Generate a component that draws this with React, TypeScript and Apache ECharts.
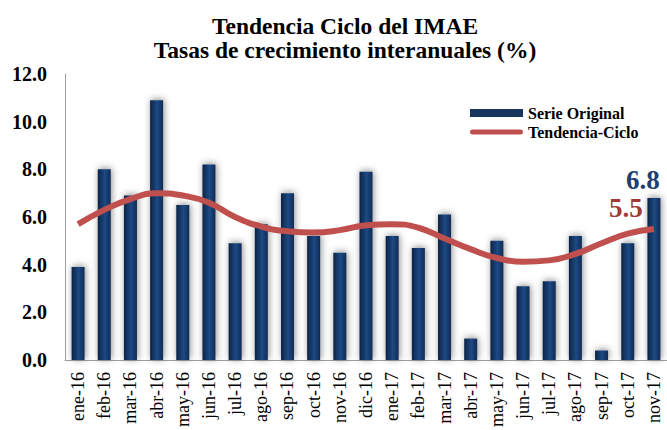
import React, { useEffect, useRef } from "react";
import * as echarts from "echarts";

const categories = [
  "ene-16", "feb-16", "mar-16", "abr-16", "may-16", "jun-16", "jul-16", "ago-16",
  "sep-16", "oct-16", "nov-16", "dic-16", "ene-17", "feb-17", "mar-17", "abr-17",
  "may-17", "jun-17", "jul-17", "ago-17", "sep-17", "oct-17", "nov-17",
];
const serieOriginal = [
  3.9, 8.0, 6.9, 10.9, 6.5, 8.2, 4.9, 5.7, 7.0, 5.2, 4.5, 7.9,
  5.2, 4.7, 6.1, 0.9, 5.0, 3.1, 3.3, 5.2, 0.4, 4.9, 6.8,
];
const tendenciaCiclo = [
  5.7, 6.3, 6.75, 7.0, 6.9, 6.6, 6.0, 5.6, 5.4, 5.35, 5.45, 5.65,
  5.7, 5.55, 5.1, 4.65, 4.28, 4.12, 4.18, 4.45, 4.9, 5.3, 5.5,
];
const yTicks = { min: 0, max: 12, interval: 2 };

const SERIF = "Times New Roman, Liberation Serif, serif";

export default function App() {
  const ref = useRef<HTMLDivElement>(null);
  useEffect(() => {
    if (!ref.current) return;
    const chart = echarts.init(ref.current, undefined, { renderer: "svg" });
    const last = serieOriginal.length - 1;
    const barGradient = new echarts.graphic.LinearGradient(0, 0, 1, 0, [
      { offset: 0, color: "#0d2345" },
      { offset: 0.55, color: "#1c4a85" },
      { offset: 1, color: "#102a52" },
    ]);
    chart.setOption({
      animation: false,
      backgroundColor: "#ffffff",
      textStyle: { fontFamily: SERIF },
      title: {
        text: "Tendencia Ciclo del IMAE\nTasas de crecimiento interanuales (%)",
        left: 340,
        textAlign: "center",
        top: 9,
        textStyle: {
          fontFamily: SERIF,
          fontWeight: "bold",
          fontSize: 23.5,
          lineHeight: 24,
          color: "#000",
        },
      },
      legend: {
        orient: "vertical",
        left: 465,
        top: 100,
        itemWidth: 53,
        itemHeight: 8,
        itemGap: 3,
        textStyle: { fontFamily: SERIF, fontWeight: "bold", fontSize: 16, color: "#000" },
        data: [
          { name: "Serie Original", icon: "rect", itemStyle: { color: "#17375e" } },
          {
            name: "Tendencia-Ciclo",
            icon: "path://M2.5,0 L50.5,0 A2.5,2.5 0 0 1 50.5,5 L2.5,5 A2.5,2.5 0 0 1 2.5,0 Z",
            itemStyle: { color: "#c0504d" },
          },
        ],
      },
      grid: { left: 65, right: -6, top: 74, bottom: 68, containLabel: false },
      xAxis: {
        type: "category",
        data: categories,
        axisLine: { lineStyle: { color: "#a0a0a0", width: 1 } },
        axisTick: { show: false },
        axisLabel: {
          rotate: 90,
          interval: 0,
          fontFamily: SERIF,
          fontSize: 18,
          color: "#000",
          margin: 12,
        },
      },
      yAxis: {
        type: "value",
        min: yTicks.min,
        max: yTicks.max,
        interval: yTicks.interval,
        splitLine: { show: false },
        axisLine: { show: true, lineStyle: { color: "#a0a0a0", width: 1 } },
        axisTick: { show: false },
        axisLabel: {
          formatter: (v: number) => v.toFixed(1),
          fontFamily: SERIF,
          fontWeight: "bold",
          fontSize: 20,
          color: "#000",
          margin: 18,
        },
      },
      series: [
        {
          name: "Serie Original",
          type: "bar",
          barWidth: 13,
          data: serieOriginal.map((v, i) =>
            i === last
              ? {
                  value: v,
                  label: {
                    show: true,
                    position: "top",
                    distance: 4,
                    offset: [-11, 0],
                    formatter: (p: any) => p.value.toFixed(1),
                    fontFamily: SERIF,
                    fontWeight: "bold",
                    fontSize: 27,
                    color: "#1f3f6e",
                  },
                }
              : v
          ),
          itemStyle: {
            color: barGradient,
            shadowBlur: 7,
            shadowColor: "rgba(0,0,0,0.45)",
            shadowOffsetX: 1,
            shadowOffsetY: -1,
          },
          z: 2,
        },
        {
          name: "Tendencia-Ciclo",
          type: "line",
          smooth: true,
          symbol: "none",
          showSymbol: true,
          data: tendenciaCiclo.map((v, i) =>
            i === last
              ? {
                  value: v,
                  symbol: "circle",
                  symbolSize: 2,
                  itemStyle: { color: "rgba(0,0,0,0)" },
                  label: {
                    show: true,
                    position: "top",
                    distance: 4,
                    offset: [-28, -2],
                    formatter: (p: any) => p.value.toFixed(1),
                    fontFamily: SERIF,
                    fontWeight: "bold",
                    fontSize: 27,
                    color: "#a33a38",
                  },
                }
              : v
          ),
          lineStyle: { color: "#c0504d", width: 6 },
          itemStyle: { color: "#c0504d" },
          z: 3,
        },
      ],
    });
    return () => chart.dispose();
  }, []);
  return <div ref={ref} style={{ width: 667, height: 430, position: "absolute", left: 0, top: 0 }} />;
}
